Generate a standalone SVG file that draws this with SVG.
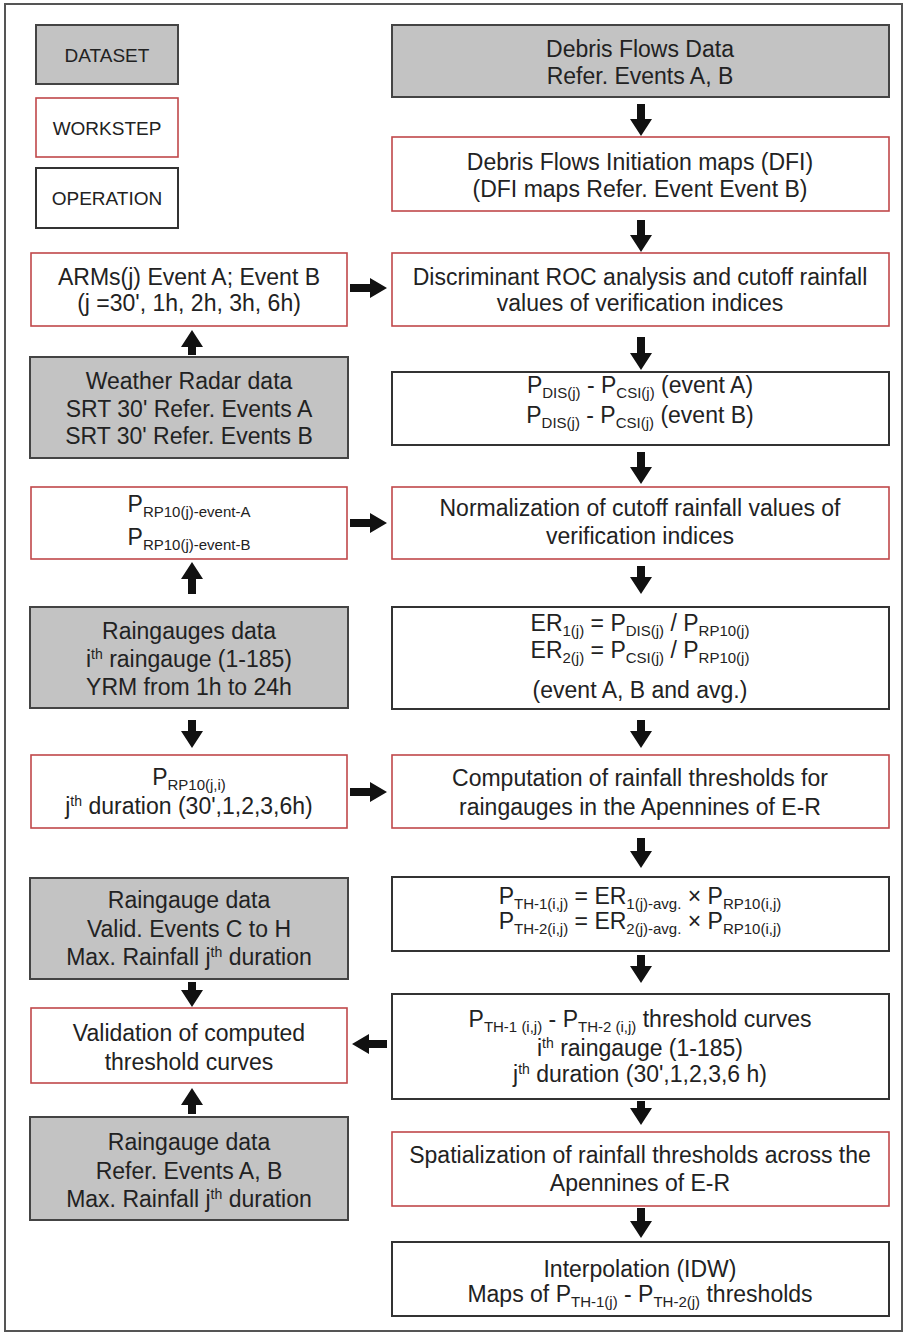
<svg xmlns="http://www.w3.org/2000/svg" width="904" height="1340" viewBox="0 0 904 1340">
<style>
text{font-family:"Liberation Sans",Arial,sans-serif;font-size:23px;fill:#222;text-anchor:middle}
.leg{font-size:19px}
.ds{fill:#c3c3c3;stroke:#444;stroke-width:2}
.ws{fill:#fff;stroke:#c0484a;stroke-width:1.6}
.op{fill:#fff;stroke:#333;stroke-width:2}
.s{font-size:15px}
.u{font-size:14px}
.arr path{fill:#111}
</style>
<rect x="5" y="4" width="897" height="1327" fill="#fff" stroke="#555" stroke-width="2"/>

<g id="legend-dataset"><rect class="ds" x="36" y="25" width="142" height="59"/><text class="leg" x="107" y="62">DATASET</text></g>
<g id="legend-workstep"><rect class="ws" x="36" y="98" width="142" height="59"/><text class="leg" x="107" y="135">WORKSTEP</text></g>
<g id="legend-operation"><rect class="op" x="36" y="168" width="142" height="60"/><text class="leg" x="107" y="205">OPERATION</text></g>

<g id="debris-data"><rect class="ds" x="392" y="25" width="497" height="72"/>
<text x="640" y="57">Debris Flows Data</text><text x="640" y="84">Refer. Events A, B</text></g>

<g id="dfi-maps"><rect class="ws" x="392" y="137" width="497" height="74"/>
<text x="640" y="170">Debris Flows Initiation maps (DFI)</text><text x="640" y="197">(DFI maps Refer. Event Event B)</text></g>

<g id="arms"><rect class="ws" x="31" y="253" width="316" height="73"/>
<text x="189" y="285">ARMs(j) Event A; Event B</text><text x="189" y="311">(j =30', 1h, 2h, 3h, 6h)</text></g>

<g id="roc"><rect class="ws" x="392" y="253" width="497" height="73"/>
<text x="640" y="285">Discriminant ROC analysis and cutoff rainfall</text><text x="640" y="311">values of verification indices</text></g>

<g id="radar"><rect class="ds" x="30" y="357" width="318" height="101"/>
<text x="189" y="389">Weather Radar data</text><text x="189" y="417">SRT 30' Refer. Events A</text><text x="189" y="444">SRT 30' Refer. Events B</text></g>

<g id="pdis"><rect class="op" x="392" y="372" width="497" height="73"/>
<text x="640" y="393">P<tspan class="s" dy="5">DIS(j)</tspan><tspan dy="-5"> - P</tspan><tspan class="s" dy="5">CSI(j)</tspan><tspan dy="-5"> (event A)</tspan></text>
<text x="640" y="423">P<tspan class="s" dy="5">DIS(j)</tspan><tspan dy="-5"> - P</tspan><tspan class="s" dy="5">CSI(j)</tspan><tspan dy="-5"> (event B)</tspan></text></g>

<g id="prp10-event"><rect class="ws" x="31" y="487" width="316" height="72"/>
<text x="189" y="512">P<tspan class="s" dy="5">RP10(j)-event-A</tspan></text>
<text x="189" y="545">P<tspan class="s" dy="5">RP10(j)-event-B</tspan></text></g>

<g id="normalization"><rect class="ws" x="392" y="487" width="497" height="72"/>
<text x="640" y="516">Normalization of cutoff rainfall values of</text><text x="640" y="544">verification indices</text></g>

<g id="raingauges"><rect class="ds" x="30" y="607" width="318" height="101"/>
<text x="189" y="639">Raingauges data</text>
<text x="189" y="667">i<tspan class="u" dy="-8">th</tspan><tspan dy="8"> raingauge (1-185)</tspan></text>
<text x="189" y="695">YRM from 1h to 24h</text></g>

<g id="er"><rect class="op" x="392" y="607" width="497" height="102"/>
<text x="640" y="631">ER<tspan class="s" dy="5">1(j)</tspan><tspan dy="-5"> = P</tspan><tspan class="s" dy="5">DIS(j)</tspan><tspan dy="-5"> / P</tspan><tspan class="s" dy="5">RP10(j)</tspan></text>
<text x="640" y="658">ER<tspan class="s" dy="5">2(j)</tspan><tspan dy="-5"> = P</tspan><tspan class="s" dy="5">CSI(j)</tspan><tspan dy="-5"> / P</tspan><tspan class="s" dy="5">RP10(j)</tspan></text>
<text x="640" y="698">(event A, B and avg.)</text></g>

<g id="prp10-ji"><rect class="ws" x="31" y="755" width="316" height="73"/>
<text x="189" y="785">P<tspan class="s" dy="5">RP10(j,i)</tspan></text>
<text x="189" y="814">j<tspan class="u" dy="-8">th</tspan><tspan dy="8"> duration (30',1,2,3,6h)</tspan></text></g>

<g id="computation"><rect class="ws" x="392" y="755" width="497" height="73"/>
<text x="640" y="786">Computation of rainfall thresholds for</text><text x="640" y="815">raingauges in the Apennines of E-R</text></g>

<g id="valid-data"><rect class="ds" x="30" y="878" width="318" height="101"/>
<text x="189" y="908">Raingauge data</text><text x="189" y="937">Valid. Events C to H</text>
<text x="189" y="965">Max. Rainfall j<tspan class="u" dy="-8">th</tspan><tspan dy="8"> duration</tspan></text></g>

<g id="pth"><rect class="op" x="392" y="877" width="497" height="74"/>
<text x="640" y="904">P<tspan class="s" dy="5">TH-1(i,j)</tspan><tspan dy="-5"> = ER</tspan><tspan class="s" dy="5">1(j)-avg.</tspan><tspan dy="-5"> × P</tspan><tspan class="s" dy="5">RP10(i,j)</tspan></text>
<text x="640" y="929">P<tspan class="s" dy="5">TH-2(i,j)</tspan><tspan dy="-5"> = ER</tspan><tspan class="s" dy="5">2(j)-avg.</tspan><tspan dy="-5"> × P</tspan><tspan class="s" dy="5">RP10(i,j)</tspan></text></g>

<g id="validation"><rect class="ws" x="31" y="1008" width="316" height="75"/>
<text x="189" y="1041">Validation of computed</text><text x="189" y="1070">threshold curves</text></g>

<g id="curves"><rect class="op" x="392" y="994" width="497" height="105"/>
<text x="640" y="1027">P<tspan class="s" dy="5">TH-1 (i,j)</tspan><tspan dy="-5"> - P</tspan><tspan class="s" dy="5">TH-2 (i,j)</tspan><tspan dy="-5"> threshold curves</tspan></text>
<text x="640" y="1056">i<tspan class="u" dy="-8">th</tspan><tspan dy="8"> raingauge (1-185)</tspan></text>
<text x="640" y="1082">j<tspan class="u" dy="-8">th</tspan><tspan dy="8"> duration (30',1,2,3,6 h)</tspan></text></g>

<g id="refer-data"><rect class="ds" x="30" y="1117" width="318" height="103"/>
<text x="189" y="1150">Raingauge data</text><text x="189" y="1179">Refer. Events A, B</text>
<text x="189" y="1207">Max. Rainfall j<tspan class="u" dy="-8">th</tspan><tspan dy="8"> duration</tspan></text></g>

<g id="spatialization"><rect class="ws" x="392" y="1132" width="497" height="74"/>
<text x="640" y="1163">Spatialization of rainfall thresholds across the</text><text x="640" y="1191">Apennines of E-R</text></g>

<g id="interpolation"><rect class="op" x="392" y="1242" width="497" height="74"/>
<text x="640" y="1277">Interpolation (IDW)</text>
<text x="640" y="1302">Maps of P<tspan class="s" dy="5">TH-1(j)</tspan><tspan dy="-5"> - P</tspan><tspan class="s" dy="5">TH-2(j)</tspan><tspan dy="-5"> thresholds</tspan></text></g>

<g id="connectors" class="arr">
<path d="M637,104 H645 V119 H652 L641,136 L630,119 H637 Z"/>
<path d="M637,220 H645 V235 H652 L641,252 L630,235 H637 Z"/>
<path d="M637,337 H645 V353 H652 L641,370 L630,353 H637 Z"/>
<path d="M637,452 H645 V467 H652 L641,484 L630,467 H637 Z"/>
<path d="M637,566 H645 V577 H652 L641,594 L630,577 H637 Z"/>
<path d="M637,720 H645 V731 H652 L641,748 L630,731 H637 Z"/>
<path d="M637,838 H645 V851 H652 L641,868 L630,851 H637 Z"/>
<path d="M637,955 H645 V966 H652 L641,983 L630,966 H637 Z"/>
<path d="M637,1101 H645 V1108 H652 L641,1125 L630,1108 H637 Z"/>
<path d="M637,1208 H645 V1221 H652 L641,1238 L630,1221 H637 Z"/>
<path d="M188,355 H196 V347 H203 L192,330 L181,347 H188 Z"/>
<path d="M188,594 H196 V579 H203 L192,562 L181,579 H188 Z"/>
<path d="M188,720 H196 V731 H203 L192,748 L181,731 H188 Z"/>
<path d="M188,982 H196 V990 H203 L192,1007 L181,990 H188 Z"/>
<path d="M188,1114 H196 V1105 H203 L192,1088 L181,1105 H188 Z"/>
<path d="M350,284 H370 V278 L387,288 L370,298 V292 H350 Z"/>
<path d="M350,519 H370 V513 L387,523 L370,533 V527 H350 Z"/>
<path d="M350,788 H370 V782 L387,792 L370,802 V796 H350 Z"/>
<path d="M387,1040 H369 V1034 L352,1044 L369,1054 V1048 H387 Z"/>
</g>
</svg>
